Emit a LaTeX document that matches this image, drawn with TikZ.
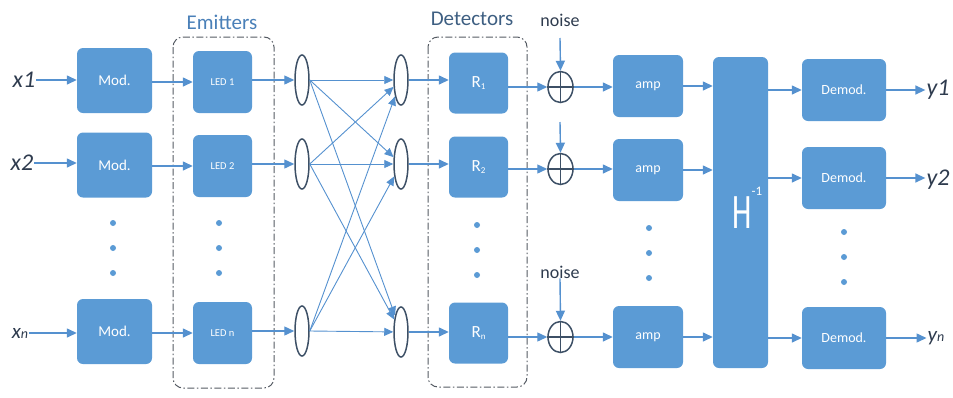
\documentclass[tikz,border=0pt]{standalone}
\usepackage{fontspec}
\setmainfont{Carlito}
\usetikzlibrary{arrows.meta,shapes.geometric}
\definecolor{boxblue}{HTML}{5B9BD5}
\definecolor{lineblue}{HTML}{5591CF}
\definecolor{ringgray}{HTML}{3D5066}
\definecolor{labeldark}{HTML}{2E3B4E}
\definecolor{emitblue}{HTML}{4A80B8}
\definecolor{detblue}{HTML}{3E5F82}
\definecolor{dashgray}{HTML}{555B63}
\begin{document}
\begin{tikzpicture}[x=1pt,y=-1pt,
  blk/.style={fill=boxblue, rounded corners=6pt, text=white, inner sep=0pt, align=center},
  modbox/.style={blk, minimum width=75pt, minimum height=65pt, font=\fontsize{15}{15}\selectfont},
  ledbox/.style={blk, minimum width=59pt, minimum height=62pt, font=\fontsize{10.5}{10.5}\selectfont},
  rbox/.style={blk, minimum width=59pt, minimum height=61pt, font=\fontsize{17}{17}\selectfont},
  ampbox/.style={blk, minimum width=70pt, minimum height=62pt, font=\fontsize{14}{14}\selectfont},
  dembox/.style={blk, minimum width=84pt, minimum height=62pt, font=\fontsize{14}{14}\selectfont},
  lens/.style={ellipse, draw=ringgray, line width=1.5pt, minimum width=14pt, minimum height=50pt, inner sep=0pt},
  plus/.style={ellipse, draw=ringgray, line width=1.5pt, minimum width=25pt, minimum height=31pt, inner sep=0pt},
  arr/.style={draw=lineblue, line width=1.4pt, -{Triangle[length=10pt,width=9pt]}},
  darr/.style={draw=lineblue, line width=0.9pt, -{Triangle[length=9pt,width=8pt]}},
  iolabel/.style={text=labeldark, font=\fontsize{24}{24}\selectfont\itshape, inner sep=1pt},
  grouplbl/.style={font=\fontsize{21}{21}\selectfont, inner sep=0pt},
  noiselbl/.style={text=labeldark, font=\fontsize{18}{18}\selectfont, inner sep=0pt},
  groupbox/.style={draw=dashgray, line width=1pt, rounded corners=10pt, dash pattern=on 7pt off 2.5pt on 1.5pt off 2.5pt},
  vdot/.style={circle, fill=boxblue, minimum size=6pt, inner sep=0pt}
]
\useasboundingbox (0,0) rectangle (953,397);

% group boxes
\draw[groupbox] (173,37) rectangle (274,388);
\draw[groupbox] (428,37) rectangle (527,387);
\node[grouplbl, text=emitblue] (emit) at (222,22) {Emitters};
\node[grouplbl, text=detblue] (det) at (472,19) {Detectors};

% inputs
\node[iolabel] (x1) at (24,80) {x1};
\node[iolabel] (x2) at (22,163) {x2};
\node[iolabel] (xn) at (20,333) {{\fontsize{21}{21}\selectfont x}{\fontsize{14}{14}\selectfont n}};

% modulators
\node[modbox] (m1) at (114.5,80.5) {Mod.};
\node[modbox] (m2) at (114.5,165) {Mod.};
\node[modbox] (mn) at (114.5,331.5) {Mod.};

% LEDs
\node[ledbox] (l1) at (222.5,82) {LED 1};
\node[ledbox] (l2) at (222.5,166) {LED 2};
\node[ledbox] (ln) at (222.5,333) {LED n};

% lenses
\node[lens] (e1) at (302,80) {};
\node[lens] (e2) at (302,164) {};
\node[lens] (en) at (302,331) {};
\node[lens] (f1) at (401,80) {};
\node[lens] (f2) at (401,164) {};
\node[lens] (fn) at (401,332) {};

% receivers
\node[rbox] (r1) at (478.5,83) {R\raisebox{-2pt}{\fontsize{9}{9}\selectfont 1}};
\node[rbox] (r2) at (478.5,167) {R\raisebox{-2pt}{\fontsize{9}{9}\selectfont 2}};
\node[rbox] (rn) at (478.5,333) {R\raisebox{-2pt}{\fontsize{9}{9}\selectfont n}};

% adders
\node[plus] (p1) at (560.5,87) {};
\node[plus] (p2) at (560.5,169) {};
\node[plus] (pn) at (560.5,337) {};
\foreach \p in {p1,p2,pn}{
  \draw[ringgray, line width=1.2pt] (\p.north) -- (\p.south);
  \draw[ringgray, line width=1.2pt] (\p.west) -- (\p.east);
}
\node[noiselbl] (n1) at (560,20) {noise};
\node[noiselbl] (nn) at (560,272) {noise};
\coordinate (n2) at (560,122);

% amps
\node[ampbox] (a1) at (648,86) {amp};
\node[ampbox] (a2) at (648,170) {amp};
\node[ampbox] (an) at (648,337) {amp};

% H inverse
\node[blk, minimum width=55pt, minimum height=311pt] (H) at (740.5,212.5) {};
\node[text=white, inner sep=0pt] (Hl) at (742,213) {\scalebox{1}[1.6]{\fontsize{31}{31}\selectfont H}};
\node[text=white, inner sep=0pt, font=\fontsize{13}{13}\selectfont] (Hs) at (757,191) {-1};

% demodulators
\node[dembox] (d1) at (844,90) {Demod.};
\node[dembox] (d2) at (844,178) {Demod.};
\node[dembox] (dn) at (844,338) {Demod.};

% outputs
\node[iolabel] (y1) at (938,90) {y1};
\node[iolabel] (y2) at (938,180) {y2};
\node[iolabel] (yn) at (936,338) {{\fontsize{21}{21}\selectfont y}{\fontsize{14}{14}\selectfont n}};

% dots
\foreach \x/\ya in {113/223, 219/223, 477/225, 649/228, 844/232}{
  \node[vdot] at (\x,\ya) {};
  \node[vdot] at (\x,\ya+25) {};
  \node[vdot] at (\x,\ya+50) {};
}

% row connectors
\foreach \r in {1,2,n}{
  \draw[arr] (x\r.east) -- (x\r.east -| m\r.west);
  \draw[arr] (m\r.east |- l\r.west) -- (l\r.west);
  \draw[arr] (l\r.east |- e\r.west) -- (e\r.west);
  \draw[arr] (f\r.east) -- (f\r.east -| r\r.west);
  \draw[arr] (r\r.east |- p\r.west) -- (p\r.west);
  \draw[arr] (p\r.east) -- (p\r.east -| a\r.west);
  \draw[arr] (a\r.east) -- (a\r.east -| H.west);
  \draw[arr] (H.east |- d\r.west) -- (d\r.west);
  \draw[arr] (d\r.east) -- (d\r.east -| y\r.west);
}

% optical channel
\foreach \i in {1,2,n}{
  \foreach \j in {1,2,n}{
    \draw[darr] (e\i.east) -- (f\j);
  }
}

% noise inputs
\draw[arr] (n1.south |- 0,38) -- (p1.north);
\draw[arr] (n2) -- (p2.north);
\draw[arr] (nn.south) -- (pn.north);
\end{tikzpicture}
\end{document}
